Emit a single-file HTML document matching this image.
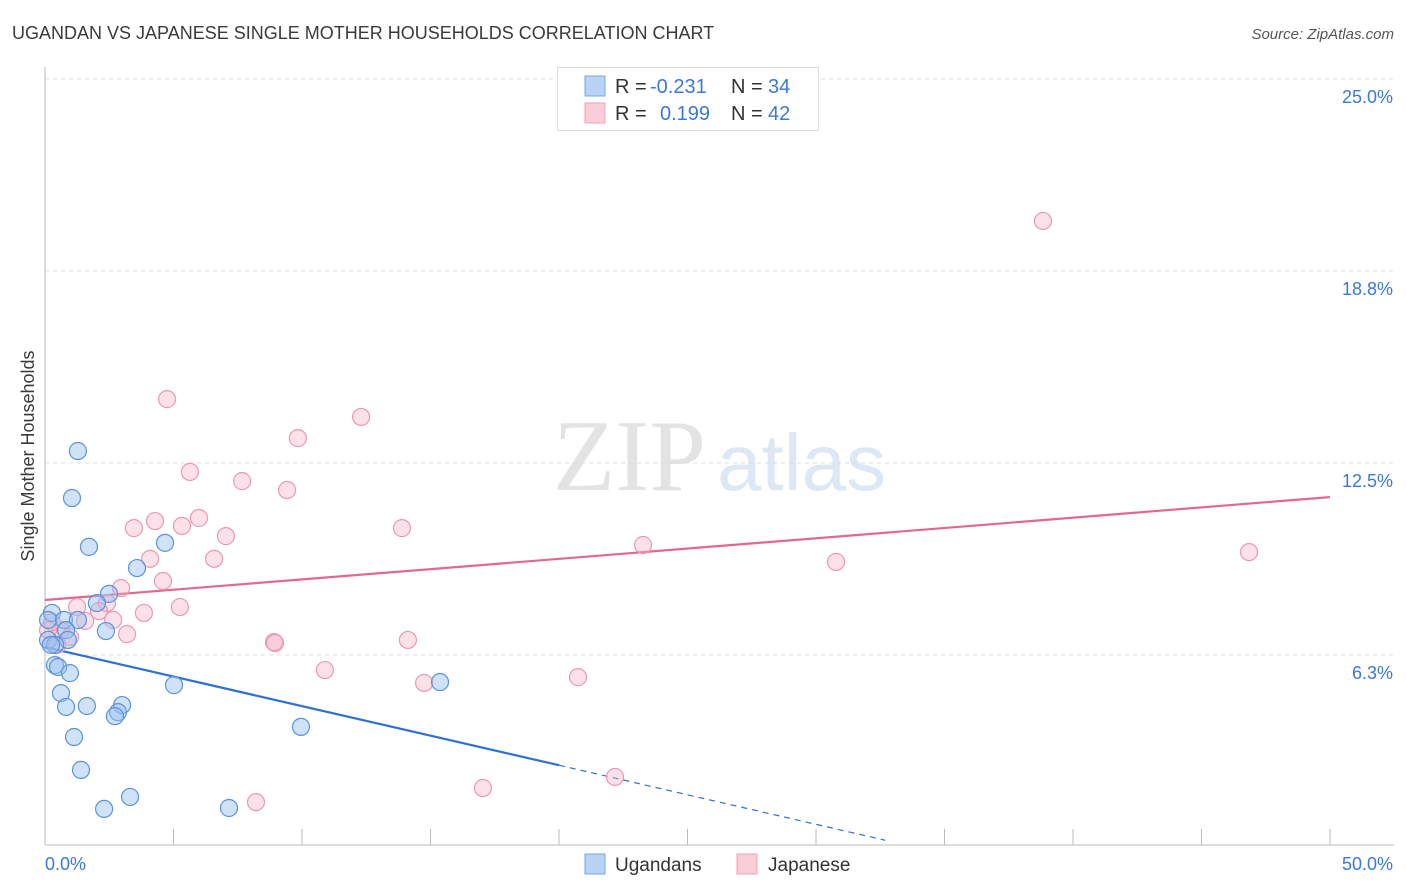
<!DOCTYPE html>
<html><head><meta charset="utf-8"><style>
body{margin:0;background:#fff;font-family:"Liberation Sans",sans-serif;}
svg{display:block}
</style></head><body>
<svg id="chart" width="1406" height="892" xmlns="http://www.w3.org/2000/svg" font-family="Liberation Sans, sans-serif">
<text x="12" y="39" font-size="18" fill="#3a3a3a">UGANDAN VS JAPANESE SINGLE MOTHER HOUSEHOLDS CORRELATION CHART</text>
<text x="1394" y="39" font-size="15" fill="#555" text-anchor="end" font-style="italic">Source: ZipAtlas.com</text>
<g>
<text x="553" y="490" font-size="102" font-family="Liberation Serif, serif" fill="#e3e3e3">ZIP</text>
<text x="717" y="490" font-size="80" fill="#dce8f6">atlas</text>
</g>
<g id="grid"></g>
<g id="axes"></g>
<g id="lines"></g>
<g id="points"></g>
<text transform="translate(34,456) rotate(-90)" text-anchor="middle" font-size="18" fill="#3a3a3a">Single Mother Households</text>
<g>
<rect x="557.5" y="67.5" width="261" height="63" fill="#fff" stroke="#ddd"/>
<rect x="585" y="76" width="20" height="20" fill="#b8d3f5" stroke="#7aa7e0"/>
<text x="615" y="93" font-size="20" fill="#333">R = </text><text x="650" y="93" font-size="20" fill="#3b78d8">-0.231</text>
<text x="731" y="93" font-size="20" fill="#333">N = </text><text x="768" y="93" font-size="20" fill="#3b78d8">34</text>
<rect x="585" y="103" width="20" height="20" fill="#fbcdd9" stroke="#f0a1b8"/>
<text x="615" y="120" font-size="20" fill="#333">R = </text><text x="660" y="120" font-size="20" fill="#3b78d8">0.199</text>
<text x="731" y="120" font-size="20" fill="#333">N = </text><text x="768" y="120" font-size="20" fill="#3b78d8">42</text>
</g>
<g>
<rect x="585" y="854" width="20" height="20" fill="#b8d3f5" stroke="#7aa7e0"/>
<text x="615" y="871" font-size="19" fill="#333">Ugandans</text>
<rect x="737" y="854" width="20" height="20" fill="#fbcdd9" stroke="#f0a1b8"/>
<text x="768" y="871" font-size="19" fill="#333">Japanese</text>
</g>
</svg>
<script>
const yTicks=[6.25,12.5,18.75,25];
const yTickLabels=["6.3%","12.5%","18.8%","25.0%"];
const xTicks=[0,5,10,15,20,25,30,35,40,45,50];
const ugX=[1.28,1.05,1.71,4.67,3.58,2.49,2.02,0.27,0.12,0.74,1.28,2.37,0.82,0.89,0.12,0.39,0.39,0.51,0.97,0.62,0.82,1.63,3.00,2.84,2.72,5.02,15.37,9.96,1.13,1.40,2.30,3.31,7.16,0.23];
const ugY=[12.89,11.36,9.77,9.90,9.08,8.24,7.94,7.62,7.39,7.39,7.39,7.03,7.06,6.74,6.74,6.58,5.92,5.86,5.66,5.01,4.56,4.59,4.62,4.39,4.26,5.27,5.37,3.91,3.58,2.51,1.24,1.63,1.27,6.58];
const jpX=[38.83,4.75,12.30,9.84,5.64,7.67,9.42,4.28,3.46,5.33,5.99,13.89,7.04,6.58,4.09,4.59,23.27,30.78,46.85,2.96,1.25,2.41,2.10,3.85,5.25,1.56,2.65,0.62,0.97,3.19,0.47,0.12,8.91,8.95,14.12,10.89,14.75,20.74,22.18,17.04,8.21,0.27];
const jpY=[20.38,14.58,14.00,13.31,12.21,11.91,11.62,10.61,10.38,10.45,10.71,10.38,10.12,9.38,9.38,8.66,9.83,9.28,9.60,8.43,7.81,7.94,7.68,7.62,7.81,7.36,7.39,7.06,6.84,6.93,6.58,7.06,6.67,6.64,6.74,5.76,5.34,5.53,2.28,1.92,1.46,7.32];
const ugTrend=[6.51,-0.1924];
const jpTrend=[8.04,0.067];
const ugSolidEnd=20, ugDashEnd=32.7;

const NS="http://www.w3.org/2000/svg";
const X=v=>45+v*25.7;
const Y=v=>847-v*30.72;
function mk(tag,attrs,parent){const e=document.createElementNS(NS,tag);for(const k in attrs)e.setAttribute(k,attrs[k]);parent.appendChild(e);return e;}
const grid=document.getElementById('grid'),axes=document.getElementById('axes'),lines=document.getElementById('lines'),pts=document.getElementById('points');
yTicks.forEach((t,i)=>{
 const l=mk('line',{x1:45,x2:1394,y1:Y(t),y2:Y(t),stroke:'#ddd','stroke-dasharray':'4,4'},grid);
 
 
 const tx=mk('text',{x:1393,y:Y(t)+24,'text-anchor':'end','font-size':18,fill:'#3b78d8'},grid);
 tx.textContent=yTickLabels[i];
 
 
});
const ya=mk('line',{x1:45,x2:45,y1:67,y2:845,stroke:'#bbb'},axes);


const xa=mk('line',{x1:45,x2:1394,y1:845,y2:845,stroke:'#bbb'},axes);


xTicks.forEach(t=>{
 if(t===0)return;
 const l=mk('line',{x1:X(t),x2:X(t),y1:829,y2:845,stroke:'#bbb'},axes);
 
 
});
const xl0=mk('text',{x:45,y:870,'font-size':18,fill:'#3b78d8'},axes);xl0.textContent='0.0%';


const xl1=mk('text',{x:1393,y:870,'font-size':18,fill:'#3b78d8','text-anchor':'end'},axes);xl1.textContent='50.0%';



function dot(x,y,fill,stroke,name){const c=mk('circle',{cx:X(x),cy:Y(y),r:8.5,fill:fill,stroke:stroke,'stroke-width':1.2},pts);
 
 }
jpX.forEach((x,i)=>dot(x,jpY[i],'rgba(246,175,198,0.38)','#eb98b3','japanese-point'));
ugX.forEach((x,i)=>dot(x,ugY[i],'rgba(150,190,240,0.45)','#5b92dc','ugandan-point'));

const jl=mk('line',{x1:X(0),y1:Y(jpTrend[0]),x2:X(50),y2:Y(jpTrend[0]+jpTrend[1]*50),stroke:'#e4678f','stroke-width':2.2},lines);


const ul=mk('line',{x1:X(0),y1:Y(ugTrend[0]),x2:X(ugSolidEnd),y2:Y(ugTrend[0]+ugTrend[1]*ugSolidEnd),stroke:'#2f6fd6','stroke-width':2.2},lines);


const ud=mk('line',{x1:X(ugSolidEnd),y1:Y(ugTrend[0]+ugTrend[1]*ugSolidEnd),x2:X(ugDashEnd),y2:Y(ugTrend[0]+ugTrend[1]*ugDashEnd),stroke:'#2f6fd6','stroke-width':1.2,'stroke-dasharray':'6,5'},lines);


</script>
</body></html>
